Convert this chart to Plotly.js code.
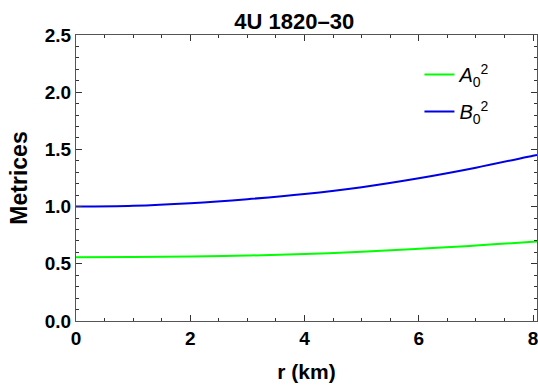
<!DOCTYPE html>
<html><head><meta charset="utf-8">
<script src="https://cdn.plot.ly/plotly-3.0.1.min.js"></script>
<style>html,body{margin:0;padding:0;background:#fff}#c{width:538px;height:390px}</style>
</head><body><div id="c"></div>
<script>
const r = [0, 1, 2, 3, 4, 5, 6, 7, 8, 8.07];
const A0sq = [0.558, 0.559, 0.563, 0.572, 0.585, 0.606, 0.632, 0.660, 0.693, 0.695];
const B0sq = [1.000, 1.007, 1.030, 1.065, 1.110, 1.170, 1.248, 1.340, 1.445, 1.452];
const names = ['<i>A</i><sub>0</sub><sup>2</sup>', '<i>B</i><sub>0</sub><sup>2</sup>'];
const xTicks = [0, 2, 4, 6, 8];
const yTicks = [0, 0.5, 1, 1.5, 2, 2.5];

const FONT = 'Arial';
const traces = [
  {x: r, y: A0sq, name: names[0], legendgroup: 'a', mode: 'lines', line: {color: '#00ff00', width: 2, shape: 'spline'}},
  {x: r, y: B0sq, name: names[1], legendgroup: 'b', mode: 'lines', line: {color: '#0000e6', width: 2, shape: 'spline'}}
];
const axCommon = {
  showgrid: false, zeroline: false, showline: true, linecolor: '#555', linewidth: 1,
  mirror: 'allticks', ticks: 'inside', ticklen: 6, tickcolor: '#333', tickwidth: 1,
  ticklabeloverflow: 'allow',
  tickfont: {family: FONT, size: 19, color: '#000', weight: 'bold'}
};
const layout = {
  width: 538, height: 390,
  margin: {l: 76, r: 1, t: 35, b: 69},
  paper_bgcolor: '#fff', plot_bgcolor: '#fff',
  title: {text: '4U 1820\u201330', x: 0.547, xref: 'container', xanchor: 'center', y: 0.946, yref: 'container', yanchor: 'middle',
    font: {family: FONT, size: 22, color: '#000', weight: 'bold'}},
  xaxis: Object.assign({}, axCommon, {
    range: [0, 8.07], tickvals: xTicks, ticktext: xTicks.map(String),
    minor: {dtick: 0.5, tick0: 0, ticks: 'inside', ticklen: 3, tickcolor: '#333'},
    title: {text: 'r (km)', standoff: 16, font: {family: FONT, size: 21, color: '#000', weight: 'bold'}}
  }),
  yaxis: Object.assign({}, axCommon, {
    range: [0, 2.5], tickvals: yTicks, ticktext: yTicks.map(v => v.toFixed(1)),
    minor: {dtick: 0.1, tick0: 0, ticks: 'inside', ticklen: 3, tickcolor: '#333'},
    title: {text: 'Metrices', standoff: 10, font: {family: FONT, size: 23, color: '#000', weight: 'bold'}}
  }),
  showlegend: true,
  legend: {x: 0.745, y: 0.93, xanchor: 'left', yanchor: 'top', bgcolor: 'rgba(0,0,0,0)',
    traceorder: 'grouped', tracegroupgap: 8,
    font: {family: FONT, size: 20, color: '#000'}, itemwidth: 30}
};
Plotly.newPlot('c', traces, layout, {staticPlot: true});
</script></body></html>
